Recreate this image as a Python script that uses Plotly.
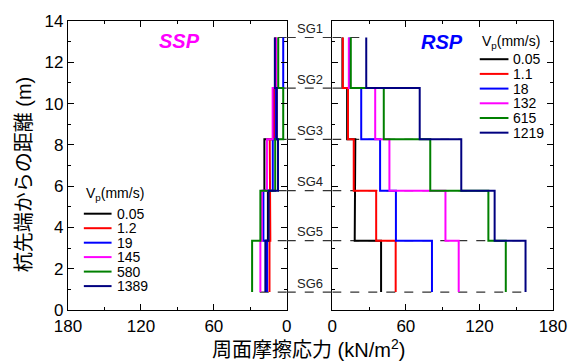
import plotly.graph_objects as go

# Gauge positions (distance from pile tip, m)
levels = [13.2, 10.75, 8.27, 5.78, 3.36, 0.87]
gauges = ["SG1", "SG2", "SG3", "SG4", "SG5", "SG6"]
colors = ["#000000", "#ff0000", "#0000ff", "#ff00ff", "#008000", "#000080"]

# SSP: skin friction (kN/m2) per gauge interval, one list per loading rate
ssp_rates = ["0.05", "1.2", "19", "145", "580", "1389"]
ssp_005 = [9.5, 10.5, 18.4, 15.5, 16.8]
ssp_12 = [9.0, 10.0, 14.0, 13.5, 14.2]
ssp_19 = [2.9, 9.0, 11.5, 19.2, 16.2]
ssp_145 = [8.6, 11.6, 16.3, 20.5, 21.7]
ssp_580 = [7.0, 2.9, 9.5, 21.7, 28.5]
ssp_1389 = [9.8, 8.1, 7.2, 14.9, 17.6]
ssp_data = [ssp_005, ssp_12, ssp_19, ssp_145, ssp_580, ssp_1389]

# RSP
rsp_rates = ["0.05", "1.1", "18", "132", "615", "1219"]
rsp_005 = [8.3, 12.1, 18.8, 18.3, 39.8]
rsp_11 = [8.6, 12.8, 17.5, 35.8, 51.7]
rsp_18 = [14.0, 23.6, 39.0, 51.9, 81.3]
rsp_132 = [13.5, 35.0, 46.6, 92.3, 103.1]
rsp_615 = [15.1, 42.0, 79.9, 127.3, 141.5]
rsp_1219 = [27.7, 71.3, 105.2, 132.4, 157.6]
rsp_data = [rsp_005, rsp_11, rsp_18, rsp_132, rsp_615, rsp_1219]

W, H = 579, 362
ML, MR, MT, MB = 68, 21, 15, 52
PW, PH = W - ML - MR, H - MT - MB
LEFT_DOM = [0, 221 / PW]
RIGHT_DOM = [267 / PW, 1]


def px(x):
    return (x - ML) / PW


def py(y):
    return (H - MB - y) / PH


def steps(vals):
    xs, ys = [], []
    for i, v in enumerate(vals):
        xs += [v, v]
        ys += [levels[i], levels[i + 1]]
    return xs, ys


fig = go.Figure()
shapes = []
annotations = []

dash_line = dict(color="#333333", width=1.2, dash="dash")

# dashed gauge levels, drawn beneath the profiles
for k, lv in enumerate(levels):
    for data, xr, yr in ((ssp_data, "x", "y"), (rsp_data, "x2", "y2")):
        adj = []
        for s in data:
            if k > 0:
                adj.append(s[k - 1])
            if k < len(s):
                adj.append(s[k])
        shapes.append(dict(type="line", xref=xr, yref=yr, x0=0, x1=max(adj),
                           y0=lv, y1=lv, line=dash_line, layer="below"))
    shapes.append(dict(type="line", xref="paper", yref="y", x0=LEFT_DOM[1],
                       x1=RIGHT_DOM[0], y0=lv, y1=lv, line=dash_line))
    annotations.append(dict(text=gauges[k], xref="paper", yref="y",
                            x=(LEFT_DOM[1] + RIGHT_DOM[0]) / 2, y=lv, yshift=9,
                            xanchor="center", yanchor="middle", showarrow=False,
                            font=dict(family="Liberation Sans", size=13, color="#222")))

for data, xr, yr in ((ssp_data, "x", "y"), (rsp_data, "x2", "y2")):
    for s, c in zip(data, colors):
        xs, ys = steps(s)
        fig.add_trace(go.Scatter(x=xs, y=ys, mode="lines", xaxis=xr, yaxis=yr,
                                 line=dict(color=c, width=2), showlegend=False,
                                 hoverinfo="skip"))

# legends
LF = dict(family="Liberation Sans", size=14, color="black")


def legend(rates, x_line, x_text, y_title, y_rows):
    annotations.append(dict(text="V<sub>p</sub>(mm/s)", xref="paper", yref="paper",
                            x=px(x_line[0]), y=py(y_title), xanchor="left",
                            yanchor="middle", showarrow=False, font=LF))
    for r, c, yy in zip(rates, colors, y_rows):
        shapes.append(dict(type="line", xref="paper", yref="paper",
                           x0=px(x_line[0]), x1=px(x_line[1]), y0=py(yy), y1=py(yy),
                           line=dict(color=c, width=2)))
        annotations.append(dict(text=r, xref="paper", yref="paper", x=px(x_text),
                                y=py(yy), xanchor="left", yanchor="middle",
                                showarrow=False, font=LF))


legend(ssp_rates, (84, 112), 115, 192, [211.7, 226.5, 241.3, 256, 270.8, 285.6])
legend(rsp_rates, (484, 513), 516, 36, [54, 69, 84, 99, 114, 129])

annotations.append(dict(text="<b><i>SSP</i></b>", xref="paper", yref="paper",
                        x=px(181), y=py(35), xanchor="center", yanchor="middle",
                        showarrow=False,
                        font=dict(family="Liberation Sans", size=20, color="#ff00ff")))
annotations.append(dict(text="<b><i>RSP</i></b>", xref="paper", yref="paper",
                        x=px(446), y=py(36), xanchor="center", yanchor="middle",
                        showarrow=False,
                        font=dict(family="Liberation Sans", size=20, color="#0000ff")))

TF = dict(family="Liberation Sans, Noto Sans CJK JP", size=20, color="black")
annotations.append(dict(text="周面摩擦応力 (kN/m<sup>2</sup>)", xref="paper", yref="paper",
                        x=px(311), y=py(349), xanchor="center", yanchor="middle",
                        showarrow=False, font=TF))
annotations.append(dict(text="杭先端からの距離 (m)", xref="paper", yref="paper",
                        x=px(23), y=py(171), xanchor="center", yanchor="middle",
                        showarrow=False, textangle=-90, font=TF))

tick_font = dict(family="Liberation Sans", size=17, color="black")
axis_common = dict(showline=True, linecolor="black", linewidth=1.3, mirror="allticks",
                   ticks="inside", ticklen=6, tickwidth=1.2, tickcolor="black",
                   showgrid=False, zeroline=False, tickfont=tick_font)

fig.update_layout(
    width=W, height=H,
    margin=dict(l=ML, r=MR, t=MT, b=MB),
    plot_bgcolor="white", paper_bgcolor="white",
    showlegend=False,
    xaxis=dict(domain=LEFT_DOM, range=[180, 0], tick0=0, dtick=60, anchor="y",
               minor=dict(dtick=30, ticks="inside", ticklen=3, tickcolor="black"),
               **axis_common),
    xaxis2=dict(domain=RIGHT_DOM, range=[0, 180], tick0=0, dtick=60, anchor="y2",
                minor=dict(dtick=30, ticks="inside", ticklen=3, tickcolor="black"),
                **axis_common),
    yaxis=dict(range=[0, 14], dtick=2, anchor="x",
               minor=dict(dtick=1, ticks="inside", ticklen=3, tickcolor="black"),
               **axis_common),
    yaxis2=dict(range=[0, 14], dtick=2, anchor="x2", matches="y", showticklabels=False,
                minor=dict(dtick=1, ticks="inside", ticklen=3, tickcolor="black"),
                **axis_common),
    shapes=shapes,
    annotations=annotations,
)

fig.write_html("out.html")
